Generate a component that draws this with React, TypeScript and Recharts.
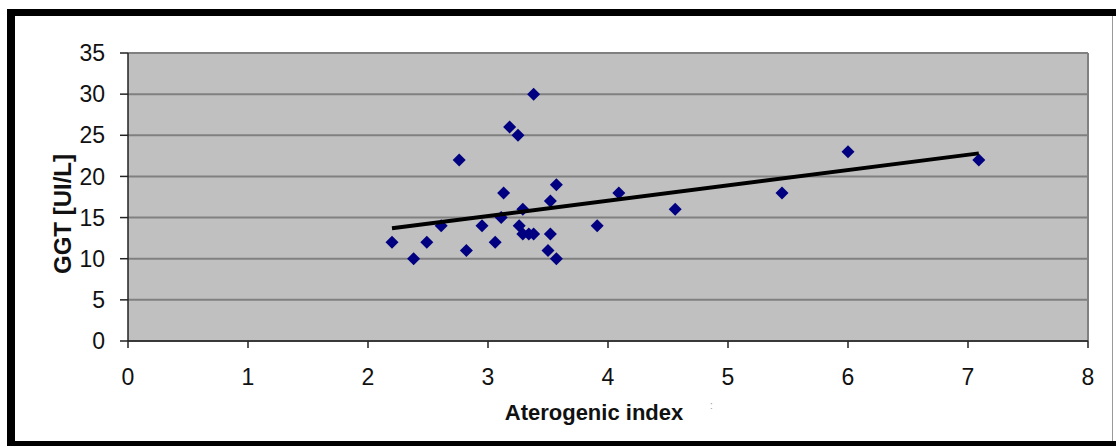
import React from 'react';
import { ComposedChart, Scatter, XAxis, YAxis, CartesianGrid, ReferenceLine } from 'recharts';

const xValues = [2.2, 2.38, 2.49, 2.61, 2.76, 2.82, 2.95, 3.06, 3.13, 3.11, 3.18, 3.25, 3.29, 3.26, 3.29, 3.34, 3.38, 3.38, 3.52, 3.52, 3.5, 3.57, 3.57, 3.91, 4.09, 4.56, 5.45, 6.0, 7.09];
const yValues = [12, 10, 12, 14, 22, 11, 14, 12, 18, 15, 26, 25, 16, 14, 13, 13, 13, 30, 17, 13, 11, 19, 10, 14, 18, 16, 18, 23, 22];
const trendX = [2.2, 7.09];
const trendY = [13.7, 22.8];
const xTicks = [0, 1, 2, 3, 4, 5, 6, 7, 8];
const yTicks = [0, 5, 10, 15, 20, 25, 30, 35];

const points = xValues.map((x, i) => ({ x, y: yValues[i] }));
const trend = trendX.map((x, i) => ({ x, y: trendY[i] }));

const Diamond = (props: any) => {
  const { cx, cy } = props;
  const r = 6.5;
  return <polygon points={`${cx},${cy - r} ${cx + r},${cy} ${cx},${cy + r} ${cx - r},${cy}`} fill="#000080" />;
};

const NoShape = () => <g />;

const font = 'Liberation Sans, Arial, sans-serif';

export default function App() {
  return (
    <div style={{ position: 'absolute', left: 0, top: 0, width: 1116, height: 446, background: '#fff', overflow: 'hidden' }}>
      <ComposedChart width={1116} height={446} margin={{ top: 53, right: 28, bottom: 0, left: 0 }}>
        <CartesianGrid vertical={false} fill="#C0C0C0" stroke="#808080" strokeWidth={2} fillOpacity={1} />
        <ReferenceLine x={8} stroke="#808080" strokeWidth={2} />
        <XAxis
          type="number"
          dataKey="x"
          domain={[0, 8]}
          ticks={xTicks}
          height={105}
          tickSize={7}
          tickMargin={21}
          axisLine={{ stroke: '#222', strokeWidth: 1.5 }}
          tickLine={{ stroke: '#222', strokeWidth: 1.5 }}
          tick={{ fill: '#111', fontSize: 23, fontFamily: font }}
          label={{
            content: (p: any) => {
              const vb = p.viewBox;
              return (
                <text x={vb.x + vb.width / 2 - 14} y={vb.y + 79} textAnchor="middle" fontFamily={font} fontWeight="bold" fontSize={22} fill="#111">
                  Aterogenic index
                </text>
              );
            },
          }}
        />
        <YAxis
          type="number"
          dataKey="y"
          domain={[0, 35]}
          ticks={yTicks}
          width={128}
          tickSize={8}
          tickMargin={15}
          axisLine={{ stroke: '#222', strokeWidth: 1.5 }}
          tickLine={{ stroke: '#222', strokeWidth: 1.5 }}
          tick={{ fill: '#111', fontSize: 23, fontFamily: font }}
          label={{
            content: (p: any) => {
              const vb = p.viewBox;
              const cx = vb.x + 62;
              const cy = vb.y + vb.height / 2 + 17;
              return (
                <text x={cx} y={cy} transform={`rotate(-90 ${cx} ${cy})`} textAnchor="middle" dominantBaseline="central" fontFamily={font} fontWeight="bold" fontSize={24} fill="#111">
                  GGT [UI/L]
                </text>
              );
            },
          }}
        />
        <Scatter data={points} shape={Diamond} isAnimationActive={false} />
        <Scatter data={trend} shape={NoShape} line={{ stroke: '#000', strokeWidth: 4 }} isAnimationActive={false} />
      </ComposedChart>
      <div style={{ position: 'absolute', left: 7, top: 9, width: 1109, height: 7, background: '#000' }} />
      <div style={{ position: 'absolute', left: 7, top: 9, width: 8, height: 437, background: '#000' }} />
      <div style={{ position: 'absolute', left: 7, top: 441, width: 1109, height: 5, background: '#000' }} />
      <div style={{ position: 'absolute', left: 1112, top: 16, width: 1, height: 425, background: '#999' }} />
      <div style={{ position: 'absolute', left: 710, top: 400, fontSize: 10, color: '#999', fontFamily: font }}>:</div>
    </div>
  );
}
